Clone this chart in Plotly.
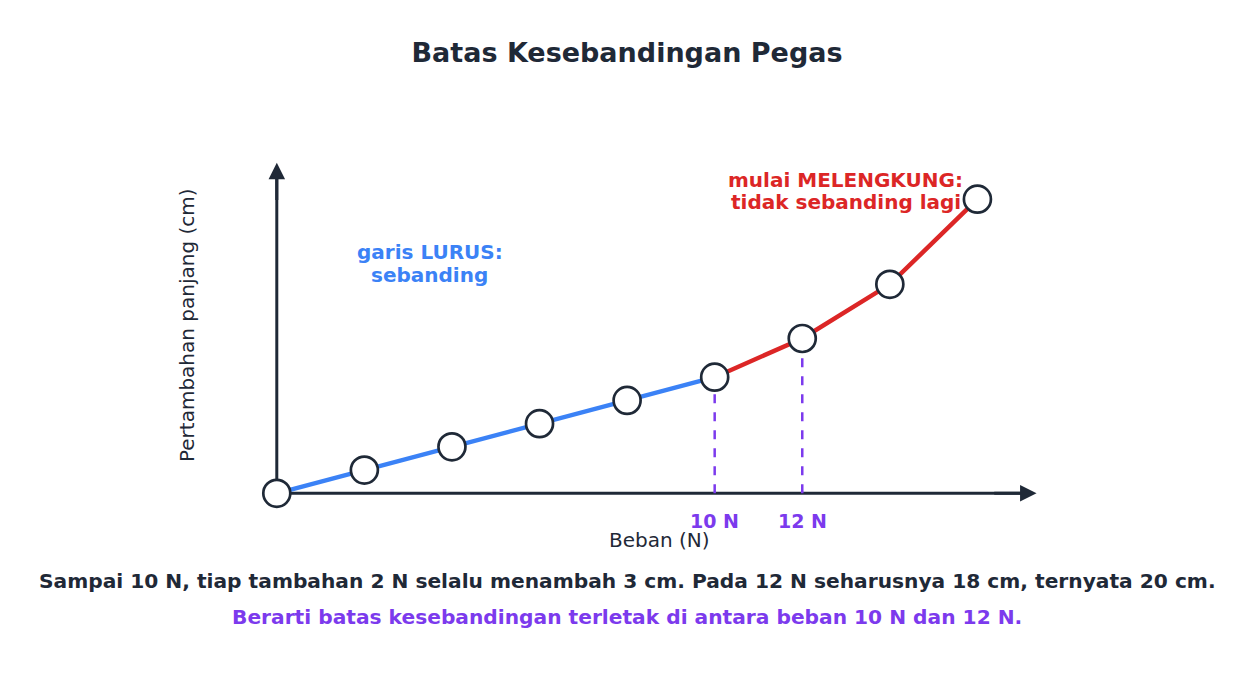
import plotly.graph_objects as go

# data
beban = [0, 2, 4, 6, 8, 10, 12, 14, 16]
pertambahan = [0, 3, 6, 9, 12, 15, 20, 27, 38]
batas_beban = [10, 12]
batas_label = ["10 N", "12 N"]

DARK = "#1f2937"
BLUE = "#3b82f6"
RED = "#dc2626"
PURPLE = "#7c3aed"
FONT = "DejaVu Sans"

X_END = 17.35
Y_END = 42.7

fig = go.Figure()

# sumbu (garis), di bawah titik-titik
fig.add_trace(go.Scatter(x=[0, X_END - 0.3], y=[0, 0], mode="lines",
                         line=dict(color=DARK, width=3), hoverinfo="skip"))
fig.add_trace(go.Scatter(x=[0, 0], y=[0, Y_END - 2], mode="lines",
                         line=dict(color=DARK, width=3), hoverinfo="skip"))

# garis lurus (sebanding) dan melengkung
i10 = beban.index(10)
fig.add_trace(go.Scatter(x=beban[:i10 + 1], y=pertambahan[:i10 + 1], mode="lines",
                         line=dict(color=BLUE, width=4.5), hoverinfo="skip"))
fig.add_trace(go.Scatter(x=beban[i10:], y=pertambahan[i10:], mode="lines",
                         line=dict(color=RED, width=4.5), hoverinfo="skip"))

# garis putus-putus ke sumbu
for b in batas_beban:
    yv = pertambahan[beban.index(b)]
    fig.add_trace(go.Scatter(x=[b, b], y=[0, yv], mode="lines",
                             line=dict(color=PURPLE, width=2.5, dash="dash"), hoverinfo="skip"))

fig.add_trace(go.Scatter(x=beban, y=pertambahan, mode="markers",
                         marker=dict(size=27, color="white", line=dict(color=DARK, width=2.7))))

# ujung panah sumbu
fig.add_annotation(x=X_END, y=0, ax=X_END - 1, ay=0, xref="x", yref="y", axref="x", ayref="y",
                   showarrow=True, arrowhead=2, arrowsize=1.1, arrowwidth=3, arrowcolor=DARK, text="")
fig.add_annotation(x=0, y=Y_END, ax=0, ay=Y_END - 5, xref="x", yref="y", axref="x", ayref="y",
                   showarrow=True, arrowhead=2, arrowsize=1.1, arrowwidth=3, arrowcolor=DARK, text="")

for b, t in zip(batas_beban, batas_label):
    fig.add_annotation(x=b, y=0, yshift=-28, text="<b>%s</b>" % t, showarrow=False,
                       font=dict(color=PURPLE, size=19, family=FONT))

fig.add_annotation(x=8.74, y=0, yshift=-47, text="Beban (N)", showarrow=False,
                   font=dict(color=DARK, size=20, family=FONT))
fig.add_annotation(x=-0.072, xref="paper", y=0.535, yref="paper", text="Pertambahan panjang (cm)",
                   showarrow=False, textangle=-90, font=dict(color=DARK, size=20, family=FONT))

fig.add_annotation(x=3.49, y=31.2, text="<b>garis LURUS:</b>", showarrow=False,
                   font=dict(color=BLUE, size=20, family=FONT))
fig.add_annotation(x=3.49, y=28.2, text="<b>sebanding</b>", showarrow=False,
                   font=dict(color=BLUE, size=20, family=FONT))
fig.add_annotation(x=12.99, y=40.5, text="<b>mulai MELENGKUNG:</b>", showarrow=False,
                   font=dict(color=RED, size=20, family=FONT))
fig.add_annotation(x=12.99, y=37.65, text="<b>tidak sebanding lagi</b>", showarrow=False,
                   font=dict(color=RED, size=20, family=FONT))

fig.add_annotation(x=0.4736, xref="paper", y=-0.1628, yref="paper", showarrow=False,
                   text="<b>Sampai 10 N, tiap tambahan 2 N selalu menambah 3 cm. Pada 12 N seharusnya 18 cm, ternyata 20 cm.</b>",
                   font=dict(color=DARK, size=20.2, family=FONT))
fig.add_annotation(x=0.4736, xref="paper", y=-0.2558, yref="paper", showarrow=False,
                   text="<b>Berarti batas kesebandingan terletak di antara beban 10 N dan 12 N.</b>",
                   font=dict(color=PURPLE, size=20.2, family=FONT))

fig.update_layout(
    width=1238, height=659,
    title=dict(text="<b>Batas Kesebandingan Pegas</b>", x=0.5, y=0.933, xanchor="center", yanchor="middle",
               font=dict(color=DARK, size=27, family=FONT)),
    plot_bgcolor="white", paper_bgcolor="white",
    showlegend=False,
    margin=dict(l=225, r=181, t=137, b=135),
    xaxis=dict(range=[-1, 18], visible=False, fixedrange=True),
    yaxis=dict(range=[-5, 45], visible=False, fixedrange=True),
)

fig.write_html("out.html")
